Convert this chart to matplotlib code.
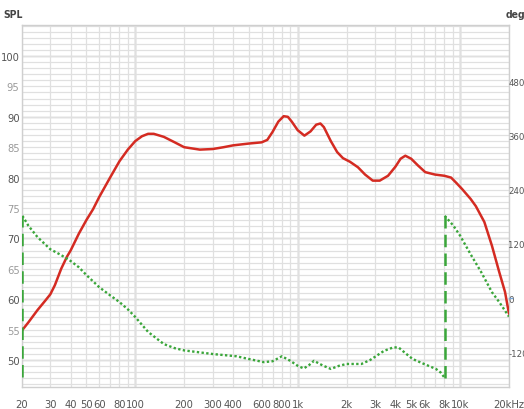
import matplotlib
matplotlib.use("Agg")
import matplotlib.pyplot as plt
import numpy as np

plt.rcParams['font.family'] = ['DejaVu Sans']
plt.rcParams['font.stretch'] = 'condensed'

# ---------------- data ----------------
spl_freq = [20, 22, 25, 28, 30, 32, 35, 38, 40, 45, 50, 55, 60, 70, 80, 90, 100, 110, 120,
            130, 150, 175, 200, 250, 300, 350, 400, 500, 600, 650, 700, 760, 820, 870, 920,
            1000, 1100, 1200, 1300, 1380, 1450, 1600, 1750, 1900, 2100, 2350, 2600, 2900,
            3200, 3600, 4000, 4300, 4600, 5000, 5500, 6100, 7000, 8000, 8800, 9500, 10300,
            11600, 12500, 14100, 15700, 17400, 18900, 20000]
spl_db = [54.8, 56.2, 58.2, 59.8, 60.8, 62.3, 65.0, 67.0, 68.0, 70.8, 73.0, 74.8, 76.8, 80.0,
          82.7, 84.6, 86.0, 86.8, 87.2, 87.2, 86.7, 85.8, 85.0, 84.6, 84.7, 85.0, 85.3, 85.6,
          85.8, 86.2, 87.5, 89.2, 90.1, 90.0, 89.2, 87.8, 86.9, 87.6, 88.7, 88.9, 88.3, 86.0,
          84.2, 83.2, 82.6, 81.7, 80.5, 79.5, 79.5, 80.3, 81.8, 83.1, 83.6, 83.1, 82.0, 80.9,
          80.5, 80.3, 80.0, 79.1, 78.1, 76.5, 75.3, 72.7, 68.8, 64.5, 61.2, 57.6]

phase1_freq = [20.2, 22, 25, 30, 35, 40, 45, 50, 60, 70, 80, 90, 100, 120, 150, 175, 200, 300,
               420, 500, 620, 700, 800, 900, 1000, 1090, 1180, 1260, 1420, 1600, 1800, 2000,
               2470, 2800, 3400, 3900, 4200, 4600, 5100, 6000, 7100, 7600, 8040]
phase1_deg = [182, 160, 135, 108, 95, 82, 68, 51, 24, 6, -9, -25, -42, -75, -102, -111, -116,
              -124, -129, -135, -142, -140, -129, -139, -150, -156, -148, -139, -149, -157,
              -150, -146, -146, -137, -117, -109, -110, -122, -135, -146, -157, -165, -177]
phase2_freq = [8040, 9100, 10000, 11600, 13500, 15700, 17500, 19800, 20000]
phase2_deg = [182, 160, 138, 97, 57, 13, -10, -39, -41]

wrap_freq = [20.2, 8040]
wrap_from = [-175, -177]
wrap_to = [182, 182]

grid_freqs = [20, 30, 40, 50, 60, 70, 80, 90, 100, 200, 300, 400, 500, 600, 700, 800, 900,
              1000, 2000, 3000, 4000, 5000, 6000, 7000, 8000, 9000, 10000, 20000]
decade_freqs = [100, 1000, 10000]
xtick_freqs = [20, 30, 40, 50, 60, 80, 100, 200, 300, 400, 600, 800, 1000, 2000, 3000, 4000,
               5000, 6000, 8000, 10000, 20000]
xtick_labels = ['20', '30', '40', '50', '60', '80', '100', '200', '300', '400', '600', '800',
                '1k', '2k', '3k', '4k', '5k', '6k', '8k', '10k', '20kHz']
spl_ticks = [50, 55, 60, 65, 70, 75, 80, 85, 90, 95, 100]
deg_ticks = [-120, 0, 120, 240, 360, 480]

# ---------------- figure ----------------
W, H = 524, 410
fig = plt.figure(figsize=(W / 100, H / 100), dpi=100)
L, R, T, B = 21.7, 509, 25.5, 388
ax = fig.add_axes([L / W, (H - B) / H, (R - L) / W, (B - T) / H])
ax.set_xscale('log')
ax.set_xlim(20, 20000)
ax.set_ylim(45.56, 105.18)

fs = 8
# grid
ax.set_xticks(grid_freqs, minor=True)
ax.set_xticks(xtick_freqs)
ax.set_xticklabels(xtick_labels)
ax.set_xticklabels([], minor=True)
ax.set_yticks(np.arange(46, 106, 1), minor=True)
ax.set_yticks(spl_ticks)
ax.set_yticklabels([str(v) for v in spl_ticks])
ax.set_yticklabels([], minor=True)
ax.grid(which='minor', axis='both', color='#e0e0e0', lw=0.9, zorder=0)
ax.grid(which='major', axis='both', color='#e0e0e0', lw=0.9, zorder=0)
for v in range(50, 101, 10):
    ax.axhline(v, color='#c6c6c6', lw=1.0, zorder=0.5)
for f in decade_freqs:
    ax.axvline(f, color='#a8a8a8', lw=1.0, zorder=0.5)
ax.set_axisbelow(True)

ax.tick_params(axis='both', which='both', length=0)
ax.tick_params(axis='x', pad=9, labelsize=fs, labelcolor='#555555')
ax.tick_params(axis='y', pad=1.5, labelsize=fs, labelcolor='#555555')
for lbl, v in zip(ax.get_yticklabels(), spl_ticks):
    lbl.set_color('#555555' if v % 10 == 0 else '#9a9a9a')
for s in ax.spines.values():
    s.set_color('#cfcfcf')
    s.set_linewidth(1.0)

# SPL curve
ax.plot(spl_freq, spl_db, color='#d42b22', lw=1.8, zorder=4, solid_capstyle='round')

# phase axis
ax2 = ax.twinx()
ax2.set_ylim(-197, 605.5)
ax2.set_yticks(deg_ticks)
ax2.set_yticklabels([str(v) for v in deg_ticks])
ax2.tick_params(axis='y', length=0, pad=-0.5, labelsize=6.8, labelcolor='#555555')
for s in ax2.spines.values():
    s.set_visible(False)
ax2.plot([20000, 21000], [0, 0], color='#7aa6d8', lw=1.0, clip_on=False)

green = '#3aa63a'
ax2.plot(phase1_freq, phase1_deg, color=green, lw=1.7, ls=(0, (1, 1)), zorder=3)
ax2.plot(phase2_freq, phase2_deg, color=green, lw=1.7, ls=(0, (1, 1)), zorder=3)
for f, a, b in zip(wrap_freq, wrap_from, wrap_to):
    ax2.plot([f, f], [a, b], color=green, lw=1.8, ls=(0, (5, 2.5)), zorder=3)

fig.text(13 / W, 1 - 15 / H, 'SPL', ha='center', va='center', fontsize=7.5,
         color='#444444', fontweight='bold')
fig.text(515 / W, 1 - 15 / H, 'deg', ha='center', va='center', fontsize=7.5,
         color='#444444', fontweight='bold')

fig.savefig('out.png', dpi=100)
